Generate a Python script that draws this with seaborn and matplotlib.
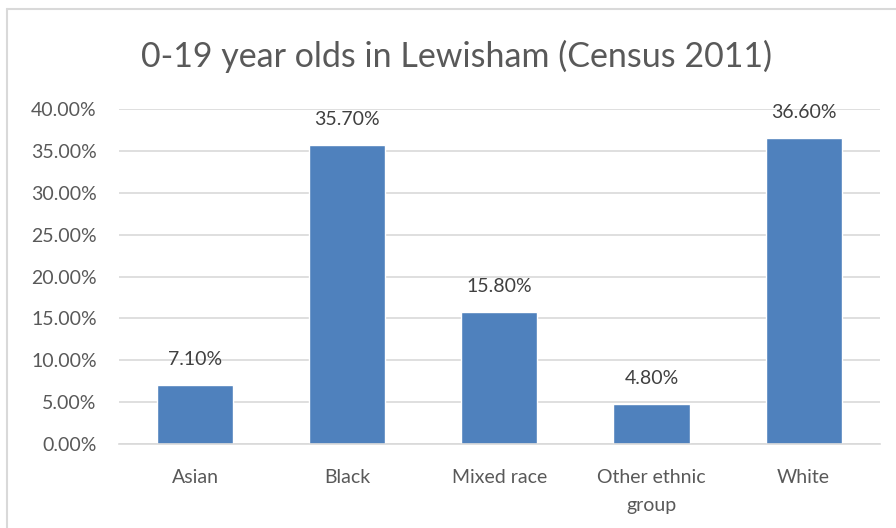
import matplotlib
matplotlib.use("Agg")
import matplotlib.pyplot as plt
import seaborn as sns
import pandas as pd
from matplotlib.ticker import FuncFormatter, MultipleLocator
from matplotlib.lines import Line2D

categories = ["Asian", "Black", "Mixed race", "Other ethnic\ngroup", "White"]
values = [7.10, 35.70, 15.80, 4.80, 36.60]
title = "0-19 year olds in Lewisham (Census 2011)"

sns.set_theme(style="white")
plt.rcParams['font.family'] = ['Lato', 'DejaVu Sans']

df = pd.DataFrame({"cat": categories, "val": values})

fig = plt.figure(figsize=(8.96, 5.28), dpi=100)
ax = fig.add_axes([0.1328, 0.159, 0.849, 0.6345])
sns.barplot(data=df, x="cat", y="val", color="#4F81BD", width=0.5, saturation=1, ax=ax)

ax.set_ylim(0, 40)
ax.yaxis.set_major_locator(MultipleLocator(5))
ax.yaxis.set_major_formatter(FuncFormatter(lambda v, p: f"{v:.2f}%"))
ax.grid(axis="y", color="#D9D9D9", linewidth=1.2)
ax.set_axisbelow(True)
for s in ["left", "right", "top"]:
    ax.spines[s].set_visible(False)
ax.spines["bottom"].set_color("#D9D9D9")
ax.spines["bottom"].set_linewidth(1.2)
ax.tick_params(axis="both", length=0, labelsize=14, colors="#595959")
ax.tick_params(axis="y", pad=16)
ax.tick_params(axis="x", pad=18)
for lbl in ax.get_xticklabels():
    lbl.set_linespacing(1.75)
ax.set_xlabel("")
ax.set_ylabel("")

for c in ax.containers:
    ax.bar_label(c, labels=[f"{v:.2f}%" for v in values], padding=12, fontsize=14, color="#404040")

fig.text(0.51, 0.894, title, ha="center", va="center", fontsize=24.5, color="#595959")
fig.add_artist(Line2D([7/896, 7/896], [0, 1 - 9/528], transform=fig.transFigure, color="#D9D9D9", linewidth=1.5))
fig.add_artist(Line2D([7/896, 1], [1 - 9/528, 1 - 9/528], transform=fig.transFigure, color="#D9D9D9", linewidth=1.5))
fig.savefig("out.png", dpi=100)
